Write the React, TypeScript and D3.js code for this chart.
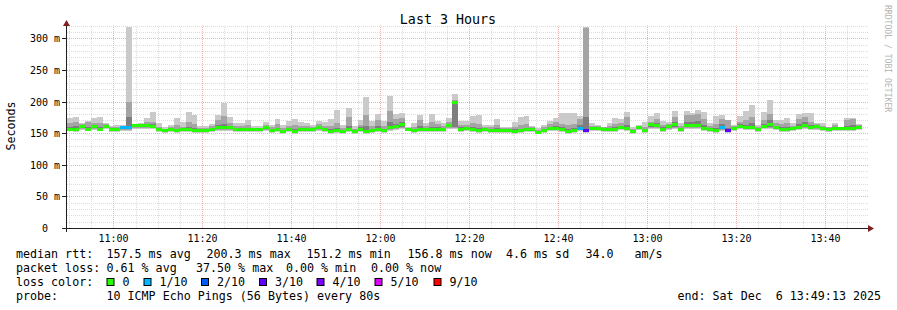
import React from 'react';
import * as d3 from 'd3';

const title = 'Last 3 Hours';
const yLabel = 'Seconds';
const watermark = 'RRDTOOL / TOBI OETIKER';

// one value per 80 s step (10 pings each)
const medianMs = [
  156.9,156.3,161.6,156.9,161.1,156.9,161.6,155.8,157,159,
  159,163,163,163,162,155.8,154.2,155.8,154.2,155.8,
  155.8,154.2,154.2,154.8,156.9,159,159.5,159.5,156.9,155.8,
  156.9,155.8,155.8,159.5,
  154.8,155.8,153.7,156.9,152.6,156.9,156.9,156.9,159,156.3,
  152.6,154.2,152.6,156.9,152.6,156.9,153.2,154.8,156.9,154.8,
  159.5,161.1,164.2,156.9,154.8,156.9,156.9,156.9,156.9,156.9,
  163.2,200,156.9,158.4,
  156.9,154.8,156.3,154.8,154.8,154.8,154.8,153.2,154.8,156.3,
  156.3,151.6,154.8,158.4,158.4,156.9,153.2,154.8,158.4,154.8,
  158.4,158.4,156.9,156.9,156.9,160,158.4,153.2,160,154.2,
  163.7,162.1,156.9,161.1,
  163.7,156.9,162.1,162.1,162.1,158.4,156.9,154.8,159.5,154.2,
  158.4,161.6,160,160,156.9,161.6,163.7,160,156.9,156.3,
  158.4,160,162.1,160,161.1,158.4,156.3,158.4,158.4,158.4,
  158.4,160,
];
const maxMs = [
  173.7,175.8,165.3,169,173.7,175.8,165.3,161,162.6,162.6,
  318,164.2,165.3,173.2,183.2,165.3,159,162.6,173.2,166.8,
  183.2,177.9,161.1,161.1,164.2,177.9,197.9,175.8,165.8,165.8,
  170.5,161.1,161.1,167.9,
  162.6,172.1,162.6,169,172.1,166.8,165.3,162.6,169,166.8,
  172.1,186.3,162.6,189,161.1,170.5,207.4,169,180,169,
  208.4,180,182.1,159,165.3,178.4,165.3,179.5,169,165.3,
  173.2,212.6,169,169,
  177.4,179,162.6,162.6,172.1,160,160,166.8,175.8,176.9,
  161.1,158.4,162.6,169.5,173.2,182.1,182.1,182.1,176.9,318,
  165.3,162.6,160,166.3,173.2,171.6,183.7,160,162.6,167.9,
  176.9,182.1,169.5,167.9,
  185.3,165.3,185.3,182.1,186.3,183.7,165.3,176.9,178.4,170.5,
  162.6,176.9,184.8,194.2,162.6,183.7,202.1,170.5,170.5,173.7,
  165.3,179.5,182.1,182.1,165.3,165.3,160,166.3,160,173.2,
  173.2,164.2,
];
const ping9Ms = [
  166,168,164,167,166,166,164,159,160,161,
  200,164,164,167,168,160,157,160,163,160,
  168,165,158,158,161,170,177,166,161,161,
  163,158,158,163,
  159,164,158,162,163,161,161,160,164,161,
  162,166,158,176,157,163,178,162,170,161,
  185,172,174,158,160,170,161,168,164,161,
  168,203,163,163,
  166,164,160,159,163,158,158,160,163,164,
  159,155,159,165,168,165,163,164,172,316,
  162,161,159,161,165,166,175,157,162,160,
  168,172,163,165,
  176,161,178,178,180,172,161,164,172,170,
  161,167,170,176,160,170,180,166,164,166,
  162,172,176,168,164,162,159,163,160,170,
  172,163,
];
const ping8Ms = [
  160,161,163,160,163,160,163,157,158,160,
  175,163.5,163.5,164,164,157,155,157,157,157,
  160,158,155.5,156,158,163,165,162,158,157,
  158,156.5,156.5,161,
  156,158,155,158,157,158,158,158,161,158,
  156,158,154,162,154,159,162,157,161,157,
  168,165,168,157,156,161,158,160,159,158,
  165,201,159,160,
  159,158,157.5,156,158,156,156,156,157,158,
  157,153,156,160,161,160,157,158,163,175,
  159.5,159.5,157.5,158,160,162,163,154.5,161,156,
  165,166,159,162.5,
  168,158,168,168,169,163,158,158,164,158,
  159.5,164,163,166,158,164,170,162,159,159,
  159.5,164,168,163,162.5,159.5,157,160,159,162,
  163,161.5,
];
const minMs = [
  153,152,155,153,155,153,156,152,152,154,
  154,157,156,157,156,151,150,151,150,151,
  151,150,150,150,152,153,154,154,152,151,
  152,151,151,154,
  150,151,149,152,148,152,152,152,154,152,
  148,150,148,152,148,152,149,150,152,150,
  154,155,157,153,150,152,152,152,152,152,
  156,156,152,153,
  152,150,152,150,150,150,150,149,150,152,
  152,148,150,153,153,152,149,150,153,150,
  153,153,152,152,152,155,153,149,155,150,
  157,156,152,155,
  157,152,156,156,156,153,152,150,154,150,
  153,156,155,155,152,156,157,155,152,152,
  153,155,156,155,155,153,152,153,153,153,
  153,155,
];
// [step index, lost pings out of 10]
const lossSteps: [number, number][] = [[9, 1], [10, 1], [86, 1], [87, 3], [110, 1], [111, 3]];

const lossLabels = ['0', '1/10', '2/10', '3/10', '4/10', '5/10', '9/10'];
const lossColors = ['#26ff00', '#00b8ff', '#0059ff', '#5e00ff', '#7e00ff', '#dd00ff', '#ff0000'];
const lossLimits = [0, 1, 2, 3, 4, 5, 9];

const yTicks = [0, 50, 100, 150, 200, 250, 300];
const yTickLabels = ['0', '50 m', '100 m', '150 m', '200 m', '250 m', '300 m'];

const statLine1: [number, string][] = [
  [16, 'median rtt:'], [106.5, '157.5 ms avg'], [206.5, '200.3 ms max'], [306.5, '151.2 ms min'],
  [407.5, '156.8 ms now'], [506, '4.6 ms sd'], [585.5, '34.0'], [634.5, 'am/s'],
];
const statLine2: [number, string][] = [
  [16, 'packet loss:'], [106.5, '0.61 % avg'], [196, '37.50 % max'], [286, '0.00 % min'], [371, '0.00 % now'],
];
const lossLabelX = [122.5, 159.5, 217, 275, 332.5, 390.5, 449.5];
const probeLine: [number, string][] = [
  [16, 'probe:'], [106.5, '10 ICMP Echo Pings (56 Bytes) every 80s'], [677.5, 'end: Sat Dec  6 13:49:13 2025'],
];

const STEP_S = 80;
const tStart = new Date(2025, 11, 6, 10, 49, 35);
const tEnd = new Date(2025, 11, 6, 13, 49, 56);

const FONT = '"DejaVu Sans Mono", monospace';

export default function App() {
  const W = 897, H = 310;
  const X0 = 67, X1 = 869, Y0 = 228, YTOP = 25.6;
  const x = d3.scaleTime().domain([tStart, tEnd]).range([X0, X1]);
  const y = d3.scaleLinear().domain([0, 320]).range([Y0, YTOP]);

  const n = medianMs.length;
  const lossMap = new Map(lossSteps);
  const colorFor = (l: number) => {
    let idx = 0;
    lossLimits.forEach((lim, i) => { if (l >= lim) idx = i; });
    return lossColors[idx];
  };

  const steps = d3.range(n).map(i => {
    const a = Math.round(x(new Date(tStart.getTime() + i * STEP_S * 1000)));
    const b = Math.round(x(new Date(tStart.getTime() + (i + 1) * STEP_S * 1000)));
    return { i, a, b };
  });

  const minorY = d3.range(0, 321, 10);
  const minorX = x.ticks(d3.timeMinute.every(5) as any);
  const fmt = d3.timeFormat('%H:%M');

  const band = (i: number, lo: number, hi: number, a: number, b: number, fill: string, inset = 0) => {
    const yt = Math.round(y(hi));
    const yb = Math.round(y(lo)) - inset;
    if (yb <= yt) return null;
    return <rect key={fill + i} x={a} y={yt} width={b - a} height={yb - yt} fill={fill} />;
  };

  return (
    <svg width={W} height={H} style={{ position: 'absolute', left: 0, top: 0, background: '#fff' }}
      fontFamily={FONT}>
      <rect x={0} y={0} width={W} height={H} fill="#fff" />
      {/* grid */}
      {minorY.map(v => {
        const yy = Math.round(y(v)) + 0.5;
        const major = v % 50 === 0;
        if (v === 0) return null;
        return <line key={'gy' + v} x1={X0} x2={X1} y1={yy} y2={yy}
          stroke={major ? '#f2b0b0' : '#dcdcdc'} strokeDasharray="1,1" />;
      })}
      {minorX.map(t => {
        const xx = Math.round(x(t)) + 0.5;
        const major = t.getMinutes() % 20 === 0;
        if (xx <= X0 + 1) return null;
        return <line key={'gx' + t.getTime()} x1={xx} x2={xx} y1={Y0} y2={YTOP}
          stroke={major ? '#f2b0b0' : '#dcdcdc'} strokeDasharray="1,1" />;
      })}
      {/* smoke */}
      {steps.map(({ i, a, b }) => band(i, minMs[i], maxMs[i], a, b, '#cacaca'))}
      {steps.map(({ i, a, b }) => band(i, minMs[i], ping9Ms[i], a, b, '#a4a4a4', 1))}
      {steps.map(({ i, a, b }) => band(i, minMs[i], ping8Ms[i], a, b, '#7e7e7e', 2))}
      {/* median */}
      {steps.map(({ i, a, b }) => {
        const ym = Math.round(y(medianMs[i]));
        return <rect key={'m' + i} x={a} y={ym - 1} width={b - a} height={3} fill={colorFor(lossMap.get(i) || 0)} />;
      })}
      {/* axes */}
      <line x1={62} x2={X1} y1={Y0 + 0.5} y2={Y0 + 0.5} stroke="#1f1f1f" />
      <line x1={X0 - 0.5} x2={X0 - 0.5} y1={Y0 + 4} y2={23} stroke="#1f1f1f" />
      <path d={`M${X1 - 1},${Y0 - 3} L${X1 + 5},${Y0 + 0.5} L${X1 - 1},${Y0 + 4} Z`} fill="#801f1f" />
      <path d={`M${X0 - 4},${26} L${X0 - 0.5},${20} L${X0 + 3},${26} Z`} fill="#801f1f" />
      {yTicks.map(v => {
        const yy = Math.round(y(v)) + 0.5;
        return <line key={'yt' + v} x1={62} x2={X0} y1={yy} y2={yy} stroke="#1f1f1f" />;
      })}
      {/* y labels */}
      {yTicks.map((v, k) => (
        <text key={'yl' + v} x={v === 0 ? 48 : 60} y={Math.round(y(v)) + 0.5} dy="0.36em" fontSize={10}
          textAnchor="end" fill="#000">{yTickLabels[k]}</text>
      ))}
      {/* x labels */}
      {x.ticks(d3.timeMinute.every(20) as any).map(t => (
        <text key={'xl' + t.getTime()} x={Math.round(x(t)) + 0.5} y={242} fontSize={10}
          textAnchor="middle" fill="#000">{fmt(t)}</text>
      ))}
      {/* title */}
      <text x={448} y={24} fontSize={13.33} textAnchor="middle" fill="#000">{title}</text>
      <text transform="translate(15,126) rotate(-90)" fontSize={11.67} textAnchor="middle" fill="#000">{yLabel}</text>
      <text transform="translate(884.5,5) rotate(90)" fontSize={8.1} fill="#b4b4b4">{watermark}</text>
      {/* legend */}
      <g fontSize={11.67} fill="#000" style={{ whiteSpace: 'pre' }}>
        {statLine1.map(([xx, s]) => <text key={'a' + xx} x={xx} y={258} xmlSpace="preserve">{s}</text>)}
        {statLine2.map(([xx, s]) => <text key={'b' + xx} x={xx} y={272} xmlSpace="preserve">{s}</text>)}
        <text x={16} y={286}>loss color:</text>
        {lossLabels.map((lab, k) => (
          <g key={'lg' + k}>
            <rect x={lossLabelX[k] - 15.5} y={278.5} width={7} height={7} fill={lossColors[k]} stroke="#000" />
            <text x={lossLabelX[k]} y={286}>{lab}</text>
          </g>
        ))}
        {probeLine.map(([xx, s]) => <text key={'c' + xx} x={xx} y={300} xmlSpace="preserve">{s}</text>)}
      </g>
    </svg>
  );
}
